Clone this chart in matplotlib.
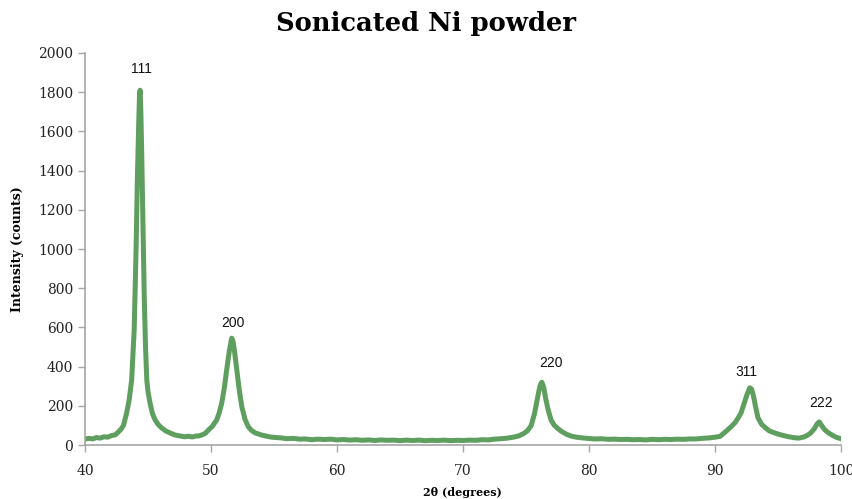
import matplotlib
matplotlib.use("Agg")
import matplotlib.pyplot as plt

two_theta = [40.0, 40.3, 40.6, 40.9, 41.2, 41.5, 41.8, 42.1, 42.4, 42.64, 42.85, 43.05, 43.3, 43.5, 43.7, 43.9,
             44.05, 44.15, 44.25, 44.32, 44.37, 44.43, 44.5, 44.6, 44.7, 44.8, 44.9, 45.0, 45.16, 45.35, 45.56,
             45.8, 46.08, 46.4, 46.8, 47.14, 47.5, 47.9, 48.2, 48.5, 48.8, 49.0, 49.3, 49.55, 49.8, 50.1, 50.45,
             50.65, 50.85, 51.05, 51.24, 51.45, 51.64, 51.74, 51.84, 52.04, 52.24, 52.44, 52.7, 52.96, 53.2, 53.5, 54.0,
             54.4, 54.8, 55.2, 55.6, 56.0, 56.5, 57.0, 57.5, 58.0, 58.5, 59.0, 59.5, 60.0, 60.5, 61.0, 61.5,
             62.0, 62.5, 63.0, 63.5, 64.0, 64.5, 65.0, 65.5, 66.0, 66.5, 67.0, 67.5, 68.0, 68.5, 69.0, 69.5,
             70.0, 70.5, 71.0, 71.5, 72.0, 72.5, 73.0, 73.5, 74.0, 74.4, 74.8, 75.1, 75.4, 75.67, 75.85, 76.0,
             76.12, 76.25, 76.4, 76.55, 76.75, 77.0, 77.25, 77.5, 77.8, 78.2, 78.6, 79.0, 79.5, 80.0, 80.5, 81.0,
             81.5, 82.0, 82.5, 83.0, 83.5, 84.0, 84.5, 85.0, 85.5, 86.0, 86.5, 87.0, 87.5, 88.0, 88.5, 89.0,
             89.5, 90.0, 90.4, 90.96, 91.3, 91.6, 91.85, 92.07, 92.3, 92.55, 92.76, 92.9, 93.05, 93.2, 93.4,
             93.7, 94.0, 94.3, 94.8, 95.2, 95.7, 96.2, 96.6, 97.0, 97.3, 97.6, 97.9, 98.1, 98.27, 98.45, 98.7,
             99.0, 99.3, 99.6, 100.0]
intensity = [30, 34, 31, 38, 35, 42, 40, 48, 52, 66, 80, 100, 163, 230, 332, 587,
             1000, 1350, 1620, 1780, 1810, 1700, 1480, 1100, 750, 500, 332, 270, 214, 160, 128,
             105, 87, 72, 60, 51, 47, 42, 45, 41, 46, 46, 52, 60, 77, 95, 128,
             165, 214, 290, 383, 480, 545, 530, 490, 383, 280, 196, 130, 93, 75, 62, 51,
             45, 40, 38, 36, 32, 34, 30, 31, 27, 30, 28, 30, 26, 28, 25, 27,
             24, 26, 23, 26, 24, 25, 22, 25, 23, 25, 22, 24, 23, 25, 22, 24,
             23, 25, 24, 27, 26, 30, 32, 35, 40, 46, 58, 72, 98, 160, 220, 270,
             305, 320, 295, 240, 180, 125, 100, 85, 70, 55, 45, 40, 36, 33, 31, 32,
             29, 30, 28, 29, 27, 28, 26, 29, 27, 29, 28, 30, 29, 31, 31, 34,
             36, 40, 44, 75, 95, 115, 140, 165, 210, 260, 292, 285, 250, 200, 140,
             105, 88, 72, 60, 52, 44, 38, 35, 40, 48, 62, 85, 108, 118, 100, 78,
             62, 50, 40, 32]

peak_labels = ["111", "200", "220", "311", "222"]
peak_label_x = [44.45, 51.75, 77.0, 92.5, 98.4]
peak_label_y = [1920, 625, 420, 375, 215]

x_ticks = [40, 50, 60, 70, 80, 90, 100]
y_ticks = [0, 200, 400, 600, 800, 1000, 1200, 1400, 1600, 1800, 2000]

fig = plt.figure(figsize=(8.53, 4.99), dpi=100)
ax = fig.add_axes([0.0997, 0.1082, 0.8863, 0.7856])

ax.plot(two_theta, intensity, color="#5e9e5e", lw=3.6, solid_joinstyle="round")

for lab, lx, ly in zip(peak_labels, peak_label_x, peak_label_y):
    ax.text(lx, ly, lab, ha="center", va="center", fontsize=10,
            family="Liberation Sans", color="#111111")

ax.set_xlim(40, 100)
ax.set_ylim(0, 2000)
ax.set_xticks(x_ticks)
ax.set_yticks(y_ticks)
for s in ["top", "right"]:
    ax.spines[s].set_visible(False)
for s in ["left", "bottom"]:
    ax.spines[s].set_color("#a6a6a6")
    ax.spines[s].set_linewidth(1.2)
ax.tick_params(axis="both", colors="#a6a6a6", length=5, width=1.0, labelcolor="#222222",
               labelsize=10)
for lab in ax.get_xticklabels() + ax.get_yticklabels():
    lab.set_family("DejaVu Serif")
ax.tick_params(axis="x", pad=9)

fig.text(0.5, 0.953, "Sonicated Ni powder", ha="center", va="center",
         fontsize=18.6, fontweight="bold", family="DejaVu Serif")
fig.text(0.02, 0.5, "Intensity (counts)", rotation=90, ha="center", va="center",
         fontsize=9, fontweight="bold", family="DejaVu Serif")
fig.text(0.542, 0.014, "2θ (degrees)", ha="center", va="center",
         fontsize=8, fontweight="bold", family="DejaVu Serif")

fig.savefig("out.png", dpi=100)
